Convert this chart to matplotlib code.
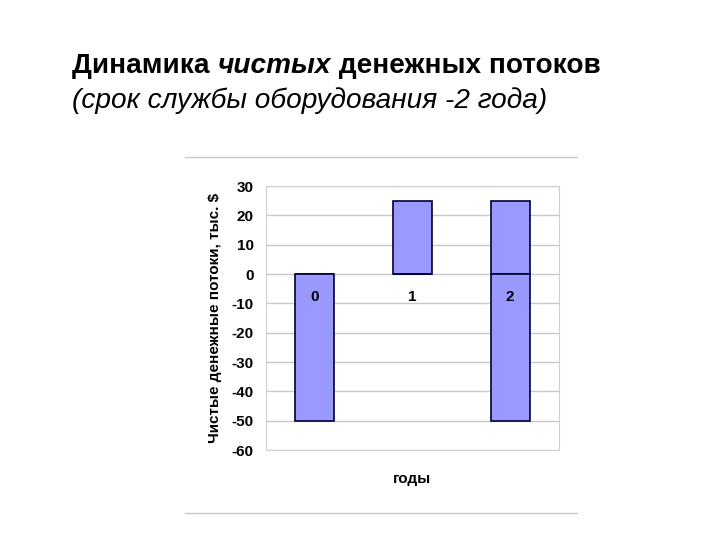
import matplotlib.pyplot as plt
from matplotlib.lines import Line2D

years = ['0', '1', '2']
inflows = [0, 25, 25]
outflows = [-50, 0, -50]
y_ticks = [30, 20, 10, 0, -10, -20, -30, -40, -50, -60]

plt.rcParams['font.family'] = ['Liberation Sans', 'DejaVu Sans']

fig = plt.figure(figsize=(7.2, 5.4), dpi=100)
W, H = 720, 540
ax = fig.add_axes([266 / W, 1 - 450 / H, (559 - 266) / W, (450 - 186) / H])

x = range(len(years))
bar_color = '#9999FF'
ax.bar(x, inflows, width=0.4, color=bar_color, edgecolor='#000033', linewidth=1.2, zorder=3)
ax.bar(x, outflows, width=0.4, color=bar_color, edgecolor='#000033', linewidth=1.2, zorder=3)

ax.set_xlim(-0.5, len(years) - 0.5)
ax.set_ylim(-60, 30)
ax.set_yticks(y_ticks)
ax.set_yticklabels([str(v) for v in y_ticks], fontsize=11, fontweight='bold')
ax.tick_params(axis='y', length=0, pad=9)
ax.set_xticks([])
ax.grid(axis='y', color='#c8c8c8', linewidth=1, zorder=0)
for s in ax.spines.values():
    s.set_color('#d0d0d0')
    s.set_linewidth(0.8)

for i, lab in enumerate(years):
    ax.text(i, -5.5, lab, ha='center', va='top', fontsize=11, fontweight='bold')

ax.set_ylabel('Чистые денежные потоки, тыс. $', fontsize=11, fontweight='bold', labelpad=7)
ax.set_xlabel('годы', fontsize=11, fontweight='bold', labelpad=16)

# title lines
fs = 20.2
r = fig.canvas.get_renderer()
ta = fig.text(72 / W, 1 - 66 / H, 'Динамика ', fontsize=fs, fontweight='bold', va='center')
bb = ta.get_window_extent(r)
tb = fig.text(bb.x1 / W, 1 - 66 / H, 'чистых', fontsize=fs, fontweight='bold',
              fontstyle='italic', va='center')
bb2 = tb.get_window_extent(r)
fig.text(bb2.x1 / W, 1 - 66 / H, ' денежных потоков', fontsize=fs, fontweight='bold', va='center')
fig.text(72 / W, 1 - 101 / H, '(срок службы оборудования -2 года)', fontsize=fs,
         fontstyle='italic', va='center')

fig.add_artist(Line2D([185 / W, 577 / W], [1 - 157 / H, 1 - 157 / H], color='#c8c8c8', linewidth=1))
fig.add_artist(Line2D([185 / W, 577 / W], [1 - 513 / H, 1 - 513 / H], color='#c8c8c8', linewidth=1))

fig.savefig('out.png', dpi=100)
